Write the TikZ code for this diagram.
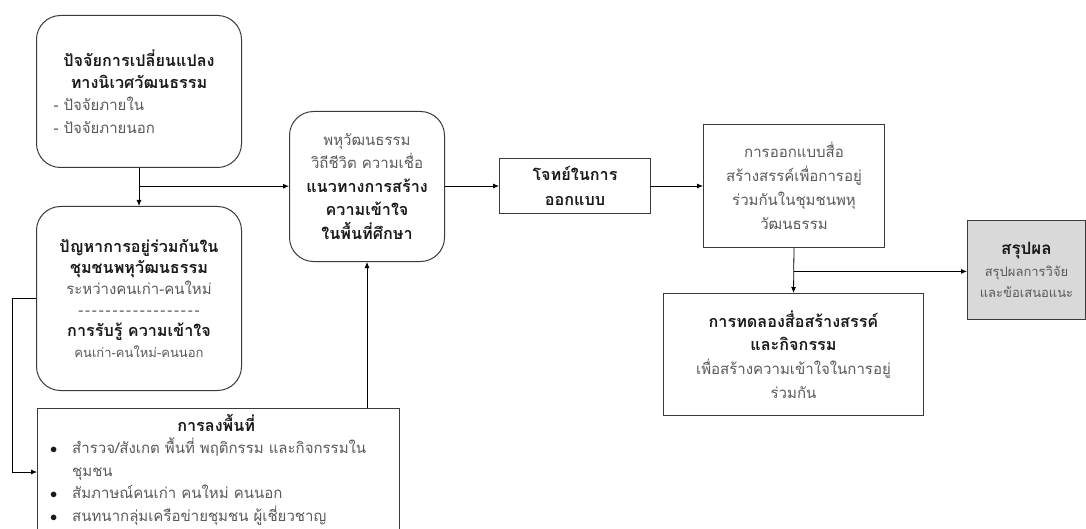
\documentclass[tikz,border=0pt]{standalone}
\usepackage{fontspec}
\setmainfont[Script=Thai]{Loma}
\usetikzlibrary{arrows.meta,calc}
\definecolor{boxline}{HTML}{3A3A3A}
\definecolor{txtgray}{HTML}{595959}
\definecolor{txtdark}{HTML}{1A1A1A}
\definecolor{endfill}{HTML}{D9D9D9}
\newcommand\fs[2]{\fontsize{#1}{#2}\selectfont}
\newcommand\hd[1]{{\fontsize{16.2}{\baselineskip}\selectfont\bfseries\color{txtdark}#1}}
% a row of separate, slightly spaced hyphens, kept apart so they are not joined into dashes
\newcommand\dd{-\kern1.85pt}
\newcommand\dashrow{\dd\dd\dd\dd\dd\dd\dd\dd\dd\dd\dd\dd\dd\dd\dd\dd\dd-}
\begin{document}
\begin{tikzpicture}[x=1pt,y=-1pt,
  box/.style={draw=boxline,line width=1pt,inner sep=0pt,align=center,
    anchor=north west,text=txtgray},
  roundbox/.style={box,rounded corners=24pt},
  arr/.style={-{Latex[length=6pt,width=5pt]},line width=0.8pt,black}]
\useasboundingbox (0,0) rectangle (1086,529);
\clip (0,0) rectangle (1086,529);

% factors of change
\node[roundbox,minimum width=205pt,minimum height=152pt,font=\fs{15}{22.3}] (b1) at (36,15)
  {\hd{ปัจจัยการเปลี่ยนแปลง}\\\hd{ทางนิเวศวัฒนธรรม}\\
   \makebox[171pt][l]{- ปัจจัยภายใน}\\\makebox[171pt][l]{- ปัจจัยภายนอก}};

% problems of living together
\node[roundbox,minimum width=205pt,minimum height=184pt,font=\fs{15}{21}] (b2) at (36,206)
  {\hd{ปัญหาการอยู่ร่วมกันใน}\\\hd{ชุมชนพหุวัฒนธรรม}\\ระหว่างคนเก่า-คนใหม่\\
   \dashrow\\\hd{การรับรู้ ความเข้าใจ}\\{\fs{13}{21}คนเก่า-คนใหม่-คนนอก}};

% fieldwork
\node[box,minimum width=362pt,minimum height=160pt] (b3) at (37,408) {};
\node[anchor=north west,align=left,inner sep=0pt,text=txtgray,font=\fs{15}{22.5}] (b3t)
  at ($(b3.north west)+(13,6)$)
  {\makebox[332pt][c]{\hd{การลงพื้นที่}}\\
   \makebox[22pt][l]{\color{txtdark}$\bullet$}สำรวจ/สังเกต พื้นที่ พฤติกรรม และกิจกรรมใน\\
   \hspace*{22pt}ชุมชน\\
   \makebox[22pt][l]{\color{txtdark}$\bullet$}สัมภาษณ์คนเก่า คนใหม่ คนนอก\\
   \makebox[22pt][l]{\color{txtdark}$\bullet$}สนทนากลุ่มเครือข่ายชุมชน ผู้เชี่ยวชาญ};

% multicultural ways of life
\node[roundbox,minimum width=155pt,minimum height=150pt,font=\fs{15}{23.5}] (b4) at (289,111)
  {พหุวัฒนธรรม\\วิถีชีวิต ความเชื่อ\\\hd{แนวทางการสร้าง}\\\hd{ความเข้าใจ}\\\hd{ในพื้นที่ศึกษา}};

% design problem
\node[box,minimum width=151pt,minimum height=55pt,font=\fs{15}{25}] (b5) at (499,158)
  {\hd{โจทย์ในการ}\\\hd{ออกแบบ}};

% media design
\node[box,minimum width=181pt,minimum height=123pt,font=\fs{15}{24}] (b6) at (703,124)
  {การออกแบบสื่อ\\สร้างสรรค์เพื่อการอยู่\\ร่วมกันในชุมชนพหุ\\วัฒนธรรม};

% media trial
\node[box,minimum width=260pt,minimum height=122pt,font=\fs{15}{23.7}] (b7) at (663,293)
  {\hd{การทดลองสื่อสร้างสรรค์}\\\hd{และกิจกรรม}\\เพื่อสร้างความเข้าใจในการอยู่\\ร่วมกัน};

% conclusion
\node[box,fill=endfill,minimum width=118pt,minimum height=99pt,font=\fs{13}{21.5}] (b8) at (967,220)
  {{\fs{17}{21.5}\bfseries\color{txtdark}สรุปผล}\\สรุปผลการวิจัย\\และข้อเสนอแนะ};

% connectors
\coordinate (j1) at ($(b1.south)!0.48!(b2.north)$);
\draw[arr] (b1.south) -- (b2.north);
\draw[arr] (j1) -- (j1 -| b4.west);

\coordinate (l1) at ($(b2.west)+(-24,0)$);
\coordinate (l2) at (l1 |- {$(b3.north west)+(0,64)$});
\draw[arr] (b2.west) -- (l1) -- (l2) -- (l2 -| b3.west);

\draw[arr] (b4.south |- b3.north) -- (b4.south);
\draw[arr] (b4.east |- b5.west) -- (b5.west);
\draw[arr] (b5.east) -- (b5.east -| b6.west);

\coordinate (j2) at ($(b6.south)!0.52!(b7.north)$);
\draw[arr] (b6.south) -- (b7.north);
\draw[arr] (j2) -- (j2 -| b8.west);
\end{tikzpicture}
\end{document}
